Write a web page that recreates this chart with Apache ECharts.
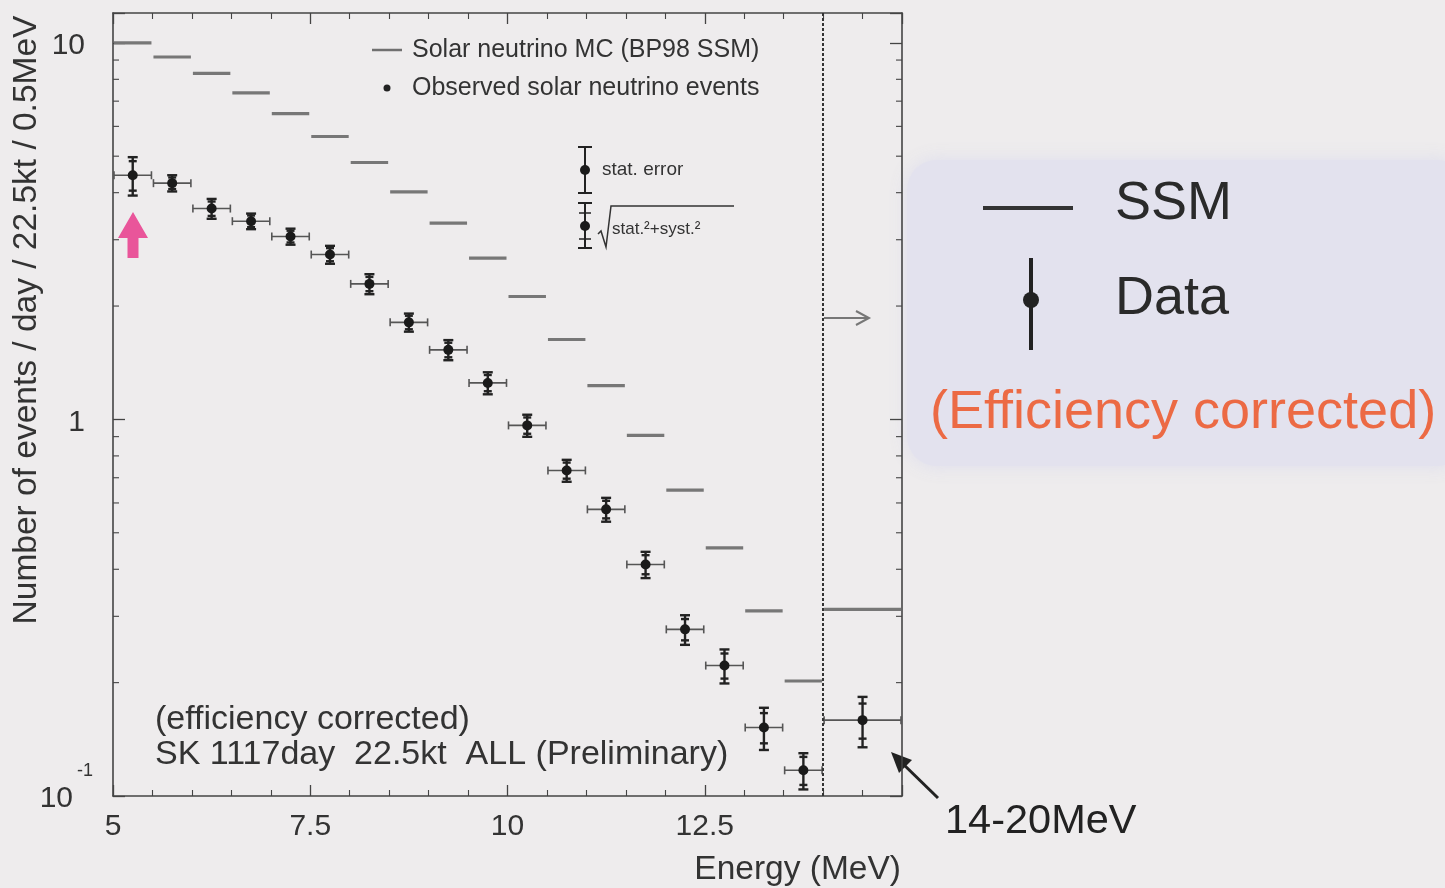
<!DOCTYPE html>
<html><head><meta charset="utf-8">
<script src="https://cdn.jsdelivr.net/npm/echarts@6/dist/echarts.min.js"></script>
<style>html,body{margin:0;padding:0;background:#eeeced;}#c{width:1445px;height:888px;}</style>
</head><body><div id="c"></div>
<script>
// ---- data ----
const binLow  = [5.0,5.5,6.0,6.5,7.0,7.5,8.0,8.5,9.0,9.5,10.0,10.5,11.0,11.5,12.0,12.5,13.0,13.5,14.0];
const binHigh = [5.5,6.0,6.5,7.0,7.5,8.0,8.5,9.0,9.5,10.0,10.5,11.0,11.5,12.0,12.5,13.0,13.5,14.0,15.0]; // last bin = 14-20 MeV drawn in 14-15
const ssmValues  = [10.0,9.17,8.30,7.36,6.49,5.64,4.81,4.02,3.32,2.68,2.12,1.63,1.23,0.907,0.649,0.456,0.310,0.202,0.313];
const dataValues = [4.45,4.24,3.63,3.36,3.06,2.74,2.29,1.81,1.53,1.25,0.964,0.732,0.577,0.412,0.277,0.222,0.152,0.117,0.159];
const totalErr   = [0.52,0.21,0.22,0.16,0.15,0.15,0.14,0.10,0.094,0.084,0.065,0.049,0.042,0.033,0.025,0.023,0.0195,0.0129,0.0243];
const statErr    = [0.40,0.15,0.16,0.12,0.11,0.11,0.10,0.075,0.068,0.062,0.048,0.036,0.031,0.024,0.018,0.017,0.014,0.010,0.017];
const xTickLabels = [5, 7.5, 10, 12.5];
const yMinorTicks = [0.2,0.3,0.4,0.5,0.6,0.7,0.8,0.9,2,3,4,5,6,7,8,9];
const X_MIN = 5, X_MAX = 15, X_STEP = 2.5, Y_MIN = 0.1, Y_MAX = 12, SPLIT_X = 14;

const FONT = '"Liberation Sans", Arial, Helvetica, sans-serif';
const TXT = '#333';
const AX = '#444';

const chart = echarts.init(document.getElementById('c'), null, {renderer:'canvas'});

const ssmItems = binLow.map((lo,i)=>[lo, binHigh[i], ssmValues[i]]);
const dataItems = binLow.map((lo,i)=>[(lo+binHigh[i])/2, dataValues[i], totalErr[i], statErr[i], lo, binHigh[i]]);
const minorItems = yMinorTicks.map(v=>[X_MIN, v]);

function fmtY(v){
  const l = Math.log10(v);
  if (Math.abs(l-Math.round(l))>1e-6) return '';
  const e = Math.round(l);
  if (e === -1) return '{b|10}{s|-1}';
  return '{b|' + Math.pow(10,e) + '}';
}

function xAxisCfg(pos){
  return {
    type:'value', min:X_MIN, max:X_MAX, interval:X_STEP, position:pos,
    axisLine:{show:true, onZero:false, lineStyle:{color:AX, width:1.6}},
    axisTick:{show:true, inside:true, length:11, lineStyle:{color:AX, width:1.3}},
    minorTick:{show:true, splitNumber:5, length:6, lineStyle:{color:AX, width:1.1}},
    axisLabel:{show:pos==='bottom', fontFamily:FONT, fontSize:30, color:TXT, margin:16,
      formatter:v=> xTickLabels.indexOf(v)>=0 ? String(v) : ''},
    splitLine:{show:false}
  };
}
function yAxisCfg(pos){
  return {
    type:'log', logBase:10, min:Y_MIN, max:Y_MAX, position:pos,
    axisLine:{show:true, onZero:false, lineStyle:{color:AX, width:1.6}},
    axisTick:{show:true, inside:true, length:12, lineStyle:{color:AX, width:1.3}},
    axisLabel:{show:pos==='left', formatter:fmtY, margin:28,
      rich:{ b:{fontFamily:FONT, fontSize:30, color:TXT, padding:[6,0,0,0]},
             s:{fontFamily:FONT, fontSize:18, color:TXT, width:0, align:'left', padding:[0,0,50,12]} }},
    splitLine:{show:false}
  };
}

const option = {
  backgroundColor:'#eeeced',
  animation:false,
  grid:{left:113, right:543, top:13, bottom:92, containLabel:false, outerBoundsMode:'none'},
  xAxis:[xAxisCfg('bottom'), xAxisCfg('top')],
  yAxis:[yAxisCfg('left'), yAxisCfg('right')],
  series:[
    { // SSM histogram bars
      type:'custom', name:'SSM', coordinateSystem:'cartesian2d', data:ssmItems,
      encode:{x:[0,1], y:2}, silent:true,
      renderItem:function(params, api){
        const a = api.coord([api.value(0), api.value(2)]);
        const b = api.coord([api.value(1), api.value(2)]);
        return {type:'line', shape:{x1:a[0]+1, y1:a[1], x2:b[0]-1, y2:b[1]},
                style:{stroke:'#777', lineWidth:3.2}};
      },
      markLine:{silent:true, symbol:'none', label:{show:false},
        lineStyle:{color:'#333', width:2, type:[3,2]},
        data:[{xAxis:SPLIT_X}]}
    },
    { // observed data with error bars
      type:'custom', name:'Data', coordinateSystem:'cartesian2d', data:dataItems,
      encode:{x:0, y:1}, silent:true,
      renderItem:function(params, api){
        const x = api.value(0), v = api.value(1), te = api.value(2), se = api.value(3);
        const lo = api.value(4), hi = api.value(5);
        const c = api.coord([x, v]);
        const t = api.coord([x, v+te]), b = api.coord([x, v-te]);
        const st = api.coord([x, v+se]), sb = api.coord([x, v-se]);
        const l = api.coord([lo, v]), r = api.coord([hi, v]);
        const s1 = {stroke:'#222', lineWidth:2.4};
        const s2 = {stroke:'#555', lineWidth:1.6};
        const ch = [
          {type:'line', shape:{x1:l[0]+1, y1:c[1], x2:r[0]-1, y2:c[1]}, style:s2},
          {type:'line', shape:{x1:l[0]+1, y1:c[1]-4, x2:l[0]+1, y2:c[1]+4}, style:s2},
          {type:'line', shape:{x1:r[0]-1, y1:c[1]-4, x2:r[0]-1, y2:c[1]+4}, style:s2},
          {type:'line', shape:{x1:c[0], y1:t[1], x2:c[0], y2:b[1]}, style:s1},
          {type:'line', shape:{x1:c[0]-5, y1:t[1], x2:c[0]+5, y2:t[1]}, style:s1},
          {type:'line', shape:{x1:c[0]-5, y1:b[1], x2:c[0]+5, y2:b[1]}, style:s1},
          {type:'line', shape:{x1:c[0]-4, y1:st[1], x2:c[0]+4, y2:st[1]}, style:s1},
          {type:'line', shape:{x1:c[0]-4, y1:sb[1], x2:c[0]+4, y2:sb[1]}, style:s1},
          {type:'circle', shape:{cx:c[0], cy:c[1], r:5}, style:{fill:'#1a1a1a'}}
        ];
        return {type:'group', children:ch};
      }
    },
    { // log-axis minor ticks (left & right frame)
      type:'custom', name:'minor', coordinateSystem:'cartesian2d', data:minorItems,
      encode:{x:0, y:1}, silent:true, clip:false,
      renderItem:function(params, api){
        const v = api.value(1);
        const l = api.coord([X_MIN, v]), r = api.coord([X_MAX, v]);
        const s = {stroke:AX, lineWidth:1.1};
        return {type:'group', children:[
          {type:'line', shape:{x1:l[0], y1:l[1], x2:l[0]+6, y2:l[1]}, style:s},
          {type:'line', shape:{x1:r[0], y1:r[1], x2:r[0]-6, y2:r[1]}, style:s}
        ]};
      }
    }
  ],
  graphic:[
    // y axis title
    {type:'text', x:27, y:320, rotation:Math.PI/2,
      style:{text:'Number of events / day / 22.5kt / 0.5MeV', fontFamily:FONT, fontSize:33.5, fill:TXT, align:'center', verticalAlign:'middle'}},
    // x axis title
    {type:'text', x:901, y:870,
      style:{text:'Energy (MeV)', fontFamily:FONT, fontSize:33.5, fill:TXT, align:'right', verticalAlign:'middle'}},
    // inner legend
    {type:'line', shape:{x1:372, y1:50, x2:402, y2:50}, style:{stroke:'#707070', lineWidth:2.5}},
    {type:'text', x:412, y:50, style:{text:'Solar neutrino MC (BP98 SSM)', fontFamily:FONT, fontSize:25, fill:TXT, align:'left', verticalAlign:'middle'}},
    {type:'circle', shape:{cx:387, cy:88, r:3.5}, style:{fill:'#222'}},
    {type:'text', x:412, y:88, style:{text:'Observed solar neutrino events', fontFamily:FONT, fontSize:25, fill:TXT, align:'left', verticalAlign:'middle'}},
    // error legend
    {type:'line', shape:{x1:585, y1:147, x2:585, y2:193}, style:{stroke:'#222', lineWidth:2}},
    {type:'line', shape:{x1:578, y1:147, x2:592, y2:147}, style:{stroke:'#222', lineWidth:2}},
    {type:'line', shape:{x1:578, y1:193, x2:592, y2:193}, style:{stroke:'#222', lineWidth:2}},
    {type:'circle', shape:{cx:585, cy:170, r:5}, style:{fill:'#1a1a1a'}},
    {type:'text', x:602, y:170, style:{text:'stat. error', fontFamily:FONT, fontSize:19, fill:TXT, align:'left', verticalAlign:'middle'}},
    {type:'line', shape:{x1:585, y1:203, x2:585, y2:248}, style:{stroke:'#222', lineWidth:2}},
    {type:'line', shape:{x1:578, y1:203, x2:592, y2:203}, style:{stroke:'#222', lineWidth:2}},
    {type:'line', shape:{x1:578, y1:248, x2:592, y2:248}, style:{stroke:'#222', lineWidth:2}},
    {type:'line', shape:{x1:579, y1:213, x2:591, y2:213}, style:{stroke:'#222', lineWidth:1.5}},
    {type:'line', shape:{x1:579, y1:239, x2:591, y2:239}, style:{stroke:'#222', lineWidth:1.5}},
    {type:'circle', shape:{cx:585, cy:226, r:5}, style:{fill:'#1a1a1a'}},
    {type:'polyline', shape:{points:[[598,234],[601,231],[606,247],[611,206],[734,206]]}, style:{stroke:'#333', lineWidth:1.5, fill:null}},
    {type:'text', x:612, y:229, style:{text:'stat.\u00B2+syst.\u00B2', fontFamily:FONT, fontSize:17, fill:TXT, align:'left', verticalAlign:'middle'}},
    // pink arrow
    {type:'polygon', shape:{points:[[133,212],[148,238],[138.5,238],[138.5,258],[127.5,258],[127.5,238],[118,238]]}, style:{fill:'#e9559a'}},
    // bottom-left notes
    {type:'text', x:155, y:720, style:{text:'(efficiency corrected)', fontFamily:FONT, fontSize:34, fill:TXT, align:'left', verticalAlign:'middle'}},
    {type:'text', x:155, y:755, style:{text:'SK 1117day  22.5kt  ALL (Preliminary)', fontFamily:FONT, fontSize:34, fill:TXT, align:'left', verticalAlign:'middle'}},
    // gray arrow in 14-20 region
    {type:'line', shape:{x1:824, y1:318, x2:868, y2:318}, style:{stroke:'#777', lineWidth:2}},
    {type:'polyline', shape:{points:[[856,311],[869,318],[856,325]]}, style:{stroke:'#777', lineWidth:2, fill:null}},
    // black arrow + label
    {type:'line', shape:{x1:938, y1:798, x2:900, y2:761}, style:{stroke:'#222', lineWidth:3}},
    {type:'polygon', shape:{points:[[891,752],[912,760],[899,773]]}, style:{fill:'#222'}},
    {type:'text', x:945, y:822, style:{text:'14-20MeV', fontFamily:FONT, fontSize:41.5, fill:'#222', align:'left', verticalAlign:'middle'}},
    // right legend box
    {type:'rect', shape:{x:907, y:160, width:560, height:306, r:30}, z:-1,
      style:{fill:'#e3e2ee', shadowBlur:18, shadowColor:'rgba(220,219,236,0.9)'}},
    {type:'line', shape:{x1:983, y1:208, x2:1073, y2:208}, style:{stroke:'#333', lineWidth:4}},
    {type:'text', x:1115, y:204, style:{text:'SSM', fontFamily:FONT, fontSize:54, fill:'#2a2a2a', align:'left', verticalAlign:'middle'}},
    {type:'line', shape:{x1:1031, y1:258, x2:1031, y2:350}, style:{stroke:'#222', lineWidth:4}},
    {type:'circle', shape:{cx:1031, cy:300, r:8}, style:{fill:'#222'}},
    {type:'text', x:1115, y:299, style:{text:'Data', fontFamily:FONT, fontSize:54, fill:'#2a2a2a', align:'left', verticalAlign:'middle'}},
    {type:'text', x:930, y:413, style:{text:'(Efficiency corrected)', fontFamily:FONT, fontSize:54, fill:'#ec6a44', align:'left', verticalAlign:'middle'}}
  ]
};
chart.setOption(option);
</script>
</body></html>
